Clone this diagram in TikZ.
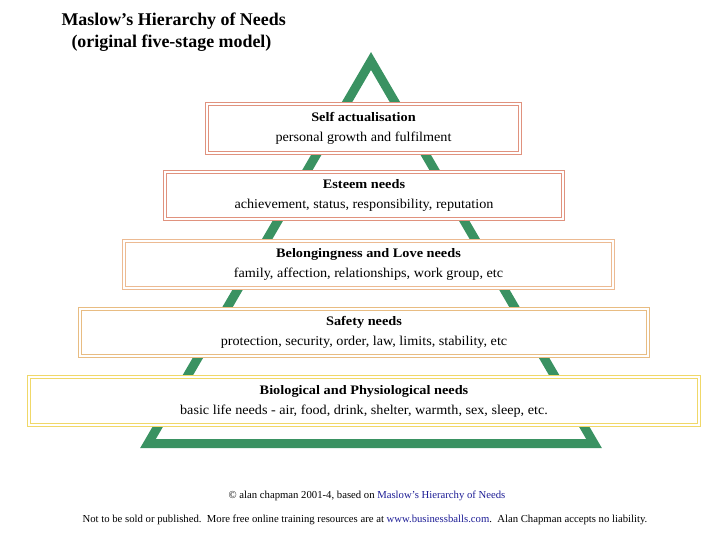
\documentclass[tikz,border=0pt]{standalone}
\usepackage{fontspec}
\setmainfont{Liberation Serif}
\newfontfamily\hdfont[FakeStretch=1.1]{Liberation Serif}
\newfontfamily\bodyfont[FakeStretch=1.05]{Liberation Serif}
\definecolor{tgreen}{RGB}{58,146,98}
\definecolor{salmon}{RGB}{224,146,126}
\definecolor{peach}{RGB}{236,186,146}
\definecolor{tan}{RGB}{232,188,130}
\definecolor{yel}{RGB}{240,216,104}
\definecolor{linkblue}{RGB}{30,30,150}
\tikzset{
  level/.style={draw=#1, double=white, line width=1.1pt, double distance=2.2pt, fill=white, align=center, inner sep=0pt, font=\bodyfont\fontsize{13.5}{20}\selectfont},
  foot/.style={font=\fontsize{10.7}{12}\selectfont},
  ttl/.style={anchor=west, font=\fontsize{17.9}{20}\selectfont\bfseries},
}
\newcommand{\hd}[1]{{\hdfont\bfseries\fontsize{13}{14}\selectfont #1}}
\begin{document}
\begin{tikzpicture}[x=1pt,y=-1pt]
\useasboundingbox[fill=white] (0,0) rectangle (720,540);
% title
\node[ttl] (t1) at (58,21) {Maslow's Hierarchy of Needs};
\node[ttl] (t2) at (68,43) {(original five-stage model)};
% triangle
\coordinate (apex) at (371,61);
\coordinate (bl) at (148,443.5);
\coordinate (br) at (594,443.5);
\draw[tgreen, line width=9pt, line join=miter] (apex) -- (bl) -- (br) -- cycle;
% levels
\node[level=salmon, minimum width=313pt, minimum height=49pt] (b1) at (363.5,128.5)
  {\hd{Self actualisation}\\personal growth and fulfilment};
\node[level=salmon, minimum width=398pt, minimum height=47pt] (b2) at (364,195.5)
  {\hd{Esteem needs}\\achievement, status, responsibility, reputation};
\node[level=peach, minimum width=489pt, minimum height=47pt] (b3) at (368.5,264.5)
  {\hd{Belongingness and Love needs}\\family, affection, relationships, work group, etc};
\node[level=tan, minimum width=568pt, minimum height=47pt] (b4) at (364,332.5)
  {\hd{Safety needs}\\protection, security, order, law, limits, stability, etc};
\node[level=yel, minimum width=670pt, minimum height=48pt] (b5) at (364,401)
  {\hd{Biological and Physiological needs}\\basic life needs - air, food, drink, shelter, warmth, sex, sleep, etc.};
% footer
\node[foot] (f1) at (367,496)
  {© alan chapman 2001-4, based on \textcolor{linkblue}{Maslow's Hierarchy of Needs}};
\node[foot] (f2) at (365,520)
  {Not to be sold or published.\ \ More free online training resources are at \textcolor{linkblue}{www.businessballs.com}.\ \ Alan Chapman accepts no liability.};
\end{tikzpicture}
\end{document}
